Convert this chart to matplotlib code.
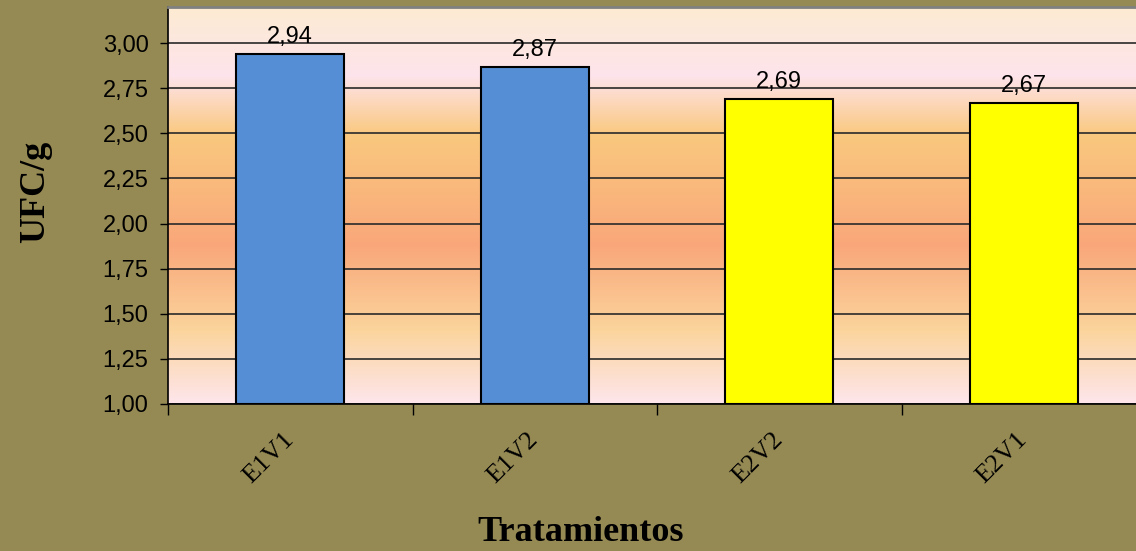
import numpy as np
import matplotlib.pyplot as plt
from matplotlib.colors import LinearSegmentedColormap

# Datos
tratamientos = ["E1V1", "E1V2", "E2V2", "E2V1"]
ufc = [2.94, 2.87, 2.69, 2.67]
colores = ["#558ED5", "#558ED5", "#FFFF00", "#FFFF00"]

fondo = "#968A54"

fig = plt.figure(figsize=(11.36, 5.51), dpi=100, facecolor=fondo)
ax = fig.add_axes([0.1479, 0.2668, 0.8609, 0.7205])

# Degradado del area de trazado
degradado = LinearSegmentedColormap.from_list("fondo_area", [
    (0.0, "#FEE6EC"),
    (0.186, "#FBD49C"),
    (0.40, "#F9A77A"),
    (0.678, "#FAC87E"),
    (0.829, "#FEE4EC"),
    (1.0, "#FCEBD2"),
])
grad = np.linspace(0, 1, 256).reshape(-1, 1)
ax.imshow(grad, cmap=degradado, origin="lower", aspect="auto",
          extent=[0, 1, 0, 1], transform=ax.transAxes, zorder=0)

x = np.arange(len(tratamientos))
barras = ax.bar(x, [v - 1 for v in ufc], bottom=1, width=0.44,
                color=colores, edgecolor="black", linewidth=1.5, zorder=3)

for xi, v in zip(x, ufc):
    ax.annotate(f"{v:.2f}".replace(".", ","), (xi, v), xytext=(0, 4),
                textcoords="offset points", ha="center", va="bottom",
                fontsize=17, family="Liberation Sans", zorder=4)

ax.set_xlim(-0.5, 3.5)
ax.set_ylim(1.0, 3.2)
ax.set_yticks(np.arange(1.0, 3.01, 0.25))
ax.set_yticklabels([f"{t:.2f}".replace(".", ",") for t in np.arange(1.0, 3.01, 0.25)],
                   family="Liberation Sans", fontsize=17)
ax.yaxis.grid(True, color="#2a2a2a", linewidth=1.2, zorder=1)
ax.set_axisbelow(True)

# Marcas del eje x entre categorias, etiquetas centradas
ax.set_xticks(np.arange(-0.5, 3.6, 1.0))
ax.set_xticklabels([])
ax.set_xticks(x, minor=True)
ax.set_xticklabels(tratamientos, minor=True, rotation=45, ha="right", va="center",
                   rotation_mode="anchor", family="Liberation Serif", fontsize=19)
ax.tick_params(axis="x", which="minor", length=0, pad=23)
ax.tick_params(axis="x", which="major", length=8, direction="out", width=1)
ax.tick_params(axis="y", length=6, direction="out", width=1, pad=8)

for lado in ["left", "bottom"]:
    ax.spines[lado].set_color("black")
    ax.spines[lado].set_linewidth(1.2)
ax.spines["top"].set_color("#808080")
ax.spines["top"].set_linewidth(2)
ax.spines["right"].set_visible(False)

fig.text(0.031, 0.652, "UFC/g", rotation=90, ha="center", va="center",
         family="Liberation Serif", fontweight="bold", fontsize=26)
fig.text(0.511, 0.033, "Tratamientos", ha="center", va="center",
         family="Liberation Serif", fontweight="bold", fontsize=26)

fig.savefig("out.png", dpi=100, facecolor=fondo)
